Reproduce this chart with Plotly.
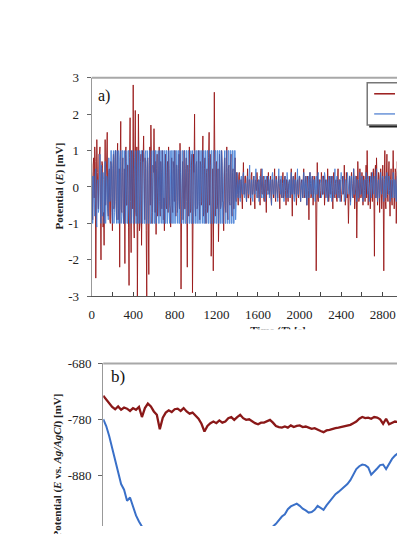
import numpy as np
import plotly.graph_objects as go

W, H = 397, 534

# ---------------- Panel a) : potential noise ----------------
# samples at t = 0, 10, 20, ... s
STEP_A = 10
red_a = [
    0.4, -0.9, 0.8, 1.1, -2.5, 1.3, -0.6, 0.9, 1.1, -2.0,
    0.7, -1.1, -1.6, 1.3, 0.2, 1.5, -0.8, 0.5, -1.0, 0.6,
    -1.2, 0.9, -0.5, 1.0, -0.9, 1.2, -0.6, -2.2, 1.8, -0.7,
    0.8, -1.0, -2.1, 1.1, -0.5, 0.6, -2.7, 1.9, -1.8, 0.9,
    2.8, -1.4, 2.1, -0.8, -3.0, 2.0, -1.2, 0.7, -1.6, 1.0,
    1.4, -0.9, 0.5, -3.0, 0.8, -2.4, 1.1, 1.7, -1.0, 0.6,
    1.6, -0.7, -1.3, 0.9, -0.5, 1.1, -0.8, 0.4, 1.0, -0.9,
    -1.2, 0.9, -0.6, 0.7, 1.1, -0.5, -1.1, 0.8, -0.7, 0.5,
    1.0, -0.8, 0.6, -0.4, 0.9, 1.2, -2.8, 0.5, -0.9, 1.0,
    -0.6, 0.8, -2.2, 0.4, 1.1, -0.7, 0.6, -2.9, 0.9, 2.0,
    -0.8, 0.7, -0.5, 1.0, -0.9, 0.6, -0.4, 1.4, -0.7, 0.8,
    -1.0, 0.5, -0.6, 1.5, 0.9, -1.9, 0.4, -2.3, 2.6, -0.8,
    0.7, -0.5, -1.5, 0.9, -0.6, 1.0, -0.4, -1.2, 0.8, -0.7,
    1.1, -0.9, 0.6, -0.5, 0.9, -0.8, 0.5, -0.6, 0.8, -0.4,
    0.3, -0.5, 0.4, -0.3, 0.2, -0.6, 0.67, -0.2, 0.3, -0.4,
    0.5, -0.3, 0.2, -0.5, 0.4, -0.2, 0.3, -0.6, 0.1, 0.4,
    -0.3, 0.2, -0.5, 0.5, -0.2, 0.3, -0.4, 0.2, -0.7, 0.3,
    0.4, -0.2, 0.3, -0.5, 0.2, -0.3, 0.5, -0.4, 0.1, -0.3,
    0.3, -0.6, 0.2, -0.3, 0.4, -0.2, 0.3, -0.5, 0.2, -0.4,
    0.2, -0.3, 0.5, -0.8, 0.3, -0.2, 0.4, -0.5, 0.2, -0.3,
    0.3, -0.4, 0.2, -0.3, 0.5, -0.2, 0.3, -0.5, 0.2, -0.9,
    0.4, -0.3, 0.2, -0.5, 0.3, -0.2, -2.3, 0.67, -0.4, 0.2,
    -0.3, 0.4, -0.2, 0.3, -0.5, 0.2, -0.3, 0.5, -0.4, 0.3,
    -0.2, 0.3, -0.6, 0.4, -0.3, 0.2, -0.4, 0.5, -0.3, 0.2,
    -0.4, 0.3, -0.2, 0.6, -0.5, 0.4, -0.3, -1.0, 0.3, -0.4,
    0.4, -0.3, 0.5, -0.6, 0.3, -1.4, 0.7, -0.4, 0.5, -0.3,
    0.4, -0.5, 0.3, -0.4, 0.6, 1.0, -0.5, 0.3, -0.6, 0.4,
    -0.4, 0.5, -1.9, 0.6, 0.8, -0.5, 0.4, -0.7, 0.5, -0.6,
    0.6, -2.3, 1.0, -0.6, 0.9, -0.4, 0.7, -0.8, 0.5, -0.5,
    1.0, -0.6, 0.5, -1.0, 0.7, -0.4, 0.6, -0.7, 0.4, -0.5, 0.3,
]
# samples at t = 5, 15, 25, ... s
red_a_mid = [
    -0.5, 0.6, -0.3, 0.7, -0.8, 0.4, -0.6, 0.9, -0.4, 0.5,
    0.6, -0.7, 0.3, -0.5, 0.8, -0.6, 0.4, -0.9, 0.7, -0.3,
    0.5, -0.6, 0.8, -0.4, 0.6, -0.9, 0.5, 0.7, -0.6, 0.4,
    -0.7, 0.5, 0.9, -0.5, 0.6, -1.1, 0.8, -0.4, 1.0, -0.6,
    -0.9, 0.8, -0.7, 1.1, -0.8, 0.6, -1.0, 0.9, -0.5, 0.7,
    -0.6, 0.8, -1.2, 0.7, -0.9, 0.6, -0.5, 0.8, -0.7, 0.4,
    -0.6, 0.7, 0.5, -0.8, 0.6, -0.4, 0.7, -0.6, 0.5, -0.3,
    0.6, -0.5, 0.4, -0.7, 0.5, -0.6, 0.4, -0.5, 0.7, -0.4,
    -0.5, 0.6, -0.7, 0.5, -0.6, 0.4, -0.8, 0.7, 0.5, -0.6,
    0.5, -0.4, 0.6, -0.8, 0.5, -0.6, 0.9, -0.7, 0.4, -0.5,
    0.6, -0.6, 0.5, -0.4, 0.7, -0.5, 0.6, -0.8, 0.5, -0.6,
    0.4, -0.7, 0.8, -0.5, 0.6, -0.9, 0.5, -0.4, 0.7, 0.5,
    -0.6, 0.5, -0.7, 0.4, -0.5, 0.6, -0.4, 0.7, -0.5, 0.4,
    -0.6, 0.5, -0.4, 0.6, -0.5, 0.4, -0.6, 0.5, -0.3, 0.4,
    -0.2, 0.3, -0.1, 0.2, -0.3, 0.1, -0.2, 0.3, -0.2, 0.1,
    -0.3, 0.2, -0.1, 0.3, -0.2, 0.1, -0.3, 0.2, -0.1, 0.2,
    0.1, -0.2, 0.3, -0.1, 0.2, -0.3, 0.1, -0.2, 0.2, -0.1,
    -0.2, 0.1, -0.3, 0.2, -0.1, 0.2, -0.2, 0.3, -0.1, 0.1,
    -0.1, 0.2, -0.2, 0.1, -0.3, 0.2, -0.1, 0.2, -0.2, 0.1,
    0.2, -0.1, -0.3, 0.2, -0.1, 0.3, -0.2, 0.1, -0.2, 0.2,
    -0.2, 0.1, -0.1, 0.2, -0.3, 0.1, -0.2, 0.3, -0.1, 0.2,
    0.1, -0.2, 0.3, -0.1, 0.2, -0.2, 0.1, -0.3, 0.2, -0.1,
    -0.1, 0.2, -0.2, 0.3, -0.1, 0.1, -0.3, 0.2, -0.2, 0.1,
    0.2, -0.1, 0.3, -0.2, 0.1, -0.3, 0.2, -0.1, 0.2, -0.2,
    -0.2, 0.3, -0.1, 0.2, -0.3, 0.1, -0.2, 0.3, -0.1, 0.2,
    0.1, -0.3, 0.2, -0.2, 0.3, -0.1, 0.2, -0.3, 0.1, -0.2,
    -0.2, 0.3, -0.1, 0.2, -0.3, 0.2, -0.1, 0.3, -0.2, 0.1,
    0.3, -0.2, 0.4, -0.3, 0.2, -0.1, 0.3, -0.3, 0.2, -0.2,
    -0.3, 0.2, -0.4, 0.3, -0.2, 0.3, -0.1, 0.2, -0.3, 0.2,
    0.3, -0.2, 0.4, -0.3, 0.2, -0.4, 0.3, -0.2, 0.3, -0.3,
]
blue_a = [
    -0.4, -1.0, 0.3, -0.8, 0.5, -1.1, 0.2, -0.6, 0.9, -1.0,
    -0.3, 0.4, -1.0, 0.7, -0.5, 0.2, -0.9, 0.5, -0.3, 1.0,
    -1.0, 1.0, -0.7, 1.0, -1.0, 0.3, 1.0, -1.0, 1.0, -0.8,
    1.0, -1.0, 0.5, 1.0, -1.0, 1.0, -0.6, 1.0, -1.0, 1.0,
    -1.0, 0.4, 1.0, -1.0, 1.0, -1.0, 1.0, -0.5, 1.0, -1.0,
    1.0, -1.0, 1.0, -1.0, 0.6, -1.0, 1.0, -1.0, 1.0, -1.0,
    1.0, -1.0, 1.0, -0.3, 1.0, -1.0, 1.0, -1.0, 1.0, -1.0,
    1.0, -1.0, 1.0, -1.0, 1.0, -1.0, 0.2, 1.0, -1.0, 1.0,
    -1.0, 1.0, -0.4, 1.0, -1.0, 1.0, -1.0, 1.0, -1.0, 1.0,
    -1.0, 1.0, -1.0, 1.0, -1.0, 0.5, -1.0, 1.0, -1.0, 1.0,
    -1.0, 1.0, -1.0, 1.0, -1.0, 1.0, -0.2, 1.0, -1.0, 1.0,
    -1.0, 1.0, -1.0, 1.0, -1.0, 1.0, -1.0, 1.0, -0.6, 1.0,
    -1.0, 1.0, -1.0, 1.0, -1.0, 1.0, -1.0, 0.3, 1.0, -1.0,
    1.0, -1.0, 1.0, -1.0, 1.0, -1.0, 1.0, -1.0, 1.0, -0.2,
    0.4, -0.3, 0.2, -0.4, 0.3, -0.2, 0.4, -0.3, 0.1, -0.4,
    0.3, -0.2, 0.6, -0.3, 0.2, -0.4, 0.3, -0.2, 0.5, -0.3,
    0.2, -0.4, 0.3, -0.2, 0.5, -0.3, 0.2, -0.4, 0.3, -0.2,
    0.3, -0.3, 0.2, -0.5, 0.4, -0.2, 0.3, -0.3, 0.2, -0.4,
    0.5, -0.2, 0.3, -0.3, 0.2, -0.4, 0.3, -0.2, 0.4, -0.3,
    0.2, -0.3, 0.4, -0.2, 0.3, -0.4, 0.2, -0.3, 0.5, -0.2,
    0.3, -0.4, 0.2, -0.3, 0.4, -0.2, 0.3, -0.5, 0.2, -0.3,
    0.4, -0.2, 0.3, -0.3, 0.2, -0.4, 0.3, -0.2, 0.4, -0.3,
    0.2, -0.3, 0.3, -0.2, 0.4, -0.3, 0.2, -0.4, 0.3, -0.2,
    0.3, -0.4, 0.2, -0.3, 0.5, -0.2, 0.3, -0.3, 0.2, -0.4,
    0.4, -0.2, 0.3, -0.4, 0.2, -0.3, 0.4, -0.2, 0.3, -0.5,
    0.3, -0.3, 0.5, -0.2, 0.3, -0.4, 0.2, -0.3, 0.4, -0.2,
    0.3, -0.4, 0.2, -0.3, 0.4, -0.2, 0.3, -0.4, 0.2, -0.3,
    0.4, -0.2, 0.3, -0.3, 0.5, -0.4, 0.2, -0.3, 0.4, -0.2,
    0.3, -0.4, 0.2, -0.3, 0.4, -0.2, 0.3, -0.4, 0.2, -0.3,
    0.4, -0.3, 0.2, -0.4, 0.3, -0.2, 0.4, -0.3, 0.2, -0.4, 0.3,
]
blue_a_mid = [
    0.3, -0.6, -0.2, 0.4, -0.9, 0.1, -0.7, 0.3, -0.5, 0.6,
    -0.8, 0.2, 0.5, -1.0, 0.3, -0.6, 0.8, -0.4, 1.0, -0.7,
    0.6, -1.0, 1.0, -0.4, 1.0, -1.0, 0.8, 1.0, -1.0, 1.0,
    -1.0, 1.0, -1.0, 0.7, -1.0, 1.0, -1.0, 1.0, -0.8, 1.0,
    -1.0, 1.0, -1.0, 0.5, -1.0, 1.0, -1.0, 1.0, -1.0, 1.0,
    -1.0, 0.9, -1.0, 1.0, -1.0, 1.0, -1.0, 0.4, -1.0, 1.0,
    -1.0, 1.0, -1.0, 1.0, -1.0, 1.0, -0.6, 1.0, -1.0, 1.0,
    -1.0, 1.0, -1.0, 1.0, -0.7, 1.0, -1.0, 1.0, -1.0, 1.0,
    -1.0, 1.0, -1.0, 1.0, -1.0, 0.3, -1.0, 1.0, -1.0, 1.0,
    -1.0, 1.0, -1.0, 1.0, -1.0, 1.0, -1.0, 0.6, -1.0, 1.0,
    -1.0, 1.0, -1.0, 1.0, -1.0, 1.0, -1.0, 1.0, -1.0, 1.0,
    -0.5, 1.0, -1.0, 1.0, -1.0, 1.0, -1.0, 1.0, -1.0, 1.0,
    -1.0, 1.0, -1.0, 1.0, -1.0, 0.7, -1.0, 1.0, -1.0, 1.0,
    -1.0, 1.0, -1.0, 1.0, -1.0, 1.0, -1.0, 1.0, -0.9, 0.3,
    -0.2, 0.1, -0.3, 0.2, -0.1, 0.3, -0.2, 0.1, -0.2, 0.2,
    -0.1, 0.3, -0.2, 0.1, -0.3, 0.2, -0.1, 0.2, -0.2, 0.1,
    0.2, -0.1, 0.2, -0.3, 0.1, -0.2, 0.3, -0.1, 0.2, -0.2,
    -0.2, 0.2, -0.1, 0.3, -0.2, 0.1, -0.3, 0.2, -0.1, 0.2,
    0.1, -0.2, 0.3, -0.1, 0.2, -0.2, 0.1, -0.3, 0.2, -0.1,
    -0.1, 0.2, -0.2, 0.1, -0.3, 0.2, -0.1, 0.2, -0.2, 0.3,
    0.2, -0.1, 0.2, -0.2, 0.1, -0.3, 0.2, -0.1, 0.3, -0.2,
    -0.2, 0.1, -0.3, 0.2, -0.1, 0.2, -0.2, 0.3, -0.1, 0.1,
    0.1, -0.2, 0.2, -0.1, 0.3, -0.2, 0.1, -0.2, 0.2, -0.3,
    -0.1, 0.3, -0.2, 0.1, -0.2, 0.2, -0.3, 0.1, -0.1, 0.2,
    0.2, -0.2, 0.1, -0.3, 0.2, -0.1, 0.2, -0.2, 0.3, -0.1,
    -0.2, 0.1, -0.2, 0.3, -0.1, 0.2, -0.3, 0.1, -0.2, 0.2,
    0.1, -0.3, 0.2, -0.1, 0.2, -0.2, 0.1, -0.2, 0.3, -0.1,
    -0.2, 0.2, -0.1, 0.3, -0.2, 0.1, -0.3, 0.2, -0.1, 0.2,
    0.2, -0.1, 0.3, -0.2, 0.1, -0.2, 0.2, -0.3, 0.1, -0.2,
    -0.1, 0.2, -0.3, 0.1, -0.2, 0.3, -0.1, 0.2, -0.2, 0.1,
]
x_ticks_a = [0, 400, 800, 1200, 1600, 2000, 2400, 2800]
y_ticks_a = [-3, -2, -1, 0, 1, 2, 3]
y_ticklabels_a = ["-3", "-2", "-1", "0", "1", "2", "3"]

# ---------------- Panel b) : potential vs time ----------------
red_b = [
    -738, -745, -752, -758, -762, -757, -763, -759, -761, -765,
    -760, -763, -758, -776, -760, -752, -757, -766, -772, -798,
    -777, -768, -764, -767, -762, -761, -765, -760, -766, -770,
    -768, -773, -779, -788, -802, -792, -787, -784, -787, -782,
    -786, -784, -778, -776, -781, -776, -772, -778, -781, -780,
    -784, -787, -789, -786, -786, -784, -781, -786, -792, -794,
    -795, -793, -795, -791, -794, -792, -791, -794, -793, -795,
    -797, -796, -799, -801, -803, -800, -799, -797, -796, -795,
    -794, -792, -791, -790, -787, -784, -779, -776, -778, -777,
    -779, -776, -777, -780, -788, -779, -789, -786, -784, -785,
]
blue_b = [
    -780, -792, -810, -832, -855, -878, -896, -906, -926, -920,
    -936, -952, -963, -972, -985, -995, -1005, -1015, -1022, -1030,
    -1035, -1040, -1044, -1048, -1052, -1055, -1057, -1060, -1060, -1062,
    -1060, -1058, -1056, -1054, -1050, -1048, -1045, -1042, -1040, -1036,
    -1032, -1028, -1024, -1020, -1016, -1012, -1008, -1004, -1000, -996,
    -993, -990, -987, -984, -981, -978, -975, -972, -967, -960,
    -954, -950, -941, -936, -934, -931, -935, -940, -943, -947,
    -946, -942, -935, -938, -942, -934, -928, -920, -914, -910,
    -905, -901, -896, -889, -880, -869, -864, -861, -862, -866,
    -879, -874, -868, -862, -861, -869, -860, -851, -845, -841,
]
y_ticks_b = [-680, -780, -880]
y_ticklabels_b = ["-680", "-780", "-880"]


def merge(main, mid, step):
    t = np.concatenate([np.arange(len(main)) * step, np.arange(len(mid)) * step + step / 2])
    v = np.concatenate([np.asarray(main, float), np.asarray(mid, float)])
    order = np.argsort(t, kind="stable")
    return t[order], v[order]


t_red_a, v_red_a = merge(red_a, red_a_mid, STEP_A)
t_blue_a, v_blue_a = merge(blue_a, blue_a_mid, STEP_A)
time_b = np.arange(len(red_b)) * 1.0

RED = "#9a1a1a"
BLUE = "#2f6fd1"
FONT = "Liberation Serif"


def px(x):
    return x / W


def py(y):
    return 1 - y / H


fig = go.Figure()
fig.add_trace(go.Scatter(x=t_red_a, y=v_red_a, mode="lines", name="Sample 1",
                         line=dict(color=RED, width=0.9), xaxis="x", yaxis="y",
                         showlegend=False))
fig.add_trace(go.Scatter(x=t_blue_a, y=v_blue_a, mode="lines", name="Sample 2",
                         line=dict(color=BLUE, width=0.9), opacity=0.85,
                         xaxis="x", yaxis="y", showlegend=False))
fig.add_trace(go.Scatter(x=time_b, y=red_b, mode="lines", name="Sample 1",
                         line=dict(color="#8a1818", width=2.3), xaxis="x2", yaxis="y2",
                         showlegend=False))
fig.add_trace(go.Scatter(x=time_b, y=blue_b, mode="lines", name="Sample 2",
                         line=dict(color="#3a70c8", width=2), xaxis="x2", yaxis="y2",
                         showlegend=False))

tickfont = dict(family=FONT, size=13, color="#222")

fig.update_layout(
    width=W, height=H,
    margin=dict(l=0, r=0, t=0, b=0),
    paper_bgcolor="white", plot_bgcolor="white",
    showlegend=False,
    xaxis=dict(domain=[px(89.3), 1], range=[0, 2937], anchor="y",
               tickvals=x_ticks_a, ticks="inside", ticklen=4, tickcolor="#444",
               minor=dict(dtick=200, ticks="inside", ticklen=4, tickcolor="#444"),
               showline=True, linecolor="#555", linewidth=1,
               showgrid=False, zeroline=False, tickfont=tickfont,
               ticklabelstandoff=6),
    yaxis=dict(domain=[py(297.7), py(72.7)], range=[-3, 3], anchor="x",
               tickvals=y_ticks_a, ticktext=y_ticklabels_a,
               ticks="outside", ticklen=4, tickcolor="#666",
               showline=True, linecolor="#999", linewidth=1,
               showgrid=False, zeroline=False, tickfont=tickfont,
               ticklabelstandoff=5),
    xaxis2=dict(domain=[px(101), 1], range=[0, (W - 101) / 3], anchor="y2",
                showline=False, showticklabels=False, ticks="",
                showgrid=False, zeroline=False),
    yaxis2=dict(domain=[0, py(366.7)], range=[-971, -680], anchor="x2",
                tickvals=y_ticks_b, ticktext=y_ticklabels_b,
                ticks="outside", ticklen=4, tickcolor="#666",
                showline=True, linecolor="#999", linewidth=1,
                showgrid=False, zeroline=False, tickfont=tickfont,
                ticklabelstandoff=4),
)

annotations = [
    dict(text="a)", x=px(94), y=py(91.5), xref="paper", yref="paper",
         xanchor="left", yanchor="middle", showarrow=False,
         font=dict(family=FONT, size=16, color="#111")),
    dict(text="b)", x=px(107), y=py(380.5), xref="paper", yref="paper",
         xanchor="left", yanchor="middle", showarrow=False,
         font=dict(family=FONT, size=17, color="#111")),
    dict(text="<b>Potential (<i>E</i>) [mV]</b>", x=px(57), y=py(184),
         xref="paper", yref="paper", xanchor="center", yanchor="middle",
         textangle=-90, showarrow=False,
         font=dict(family=FONT, size=11, color="#222")),
    dict(text="<b>Potential (<i>E</i> vs. <i>Ag/AgCl</i>) [mV]</b>", x=px(55), y=py(396),
         xref="paper", yref="paper", xanchor="center", yanchor="top",
         textangle=-90, showarrow=False,
         font=dict(family=FONT, size=11, color="#222")),
]
fig.update_layout(annotations=annotations)

shapes = [
    dict(type="line", xref="x domain", yref="y domain", x0=0, x1=1, y0=1, y1=1,
         line=dict(color="#a8a8a8", width=2), layer="above"),
    dict(type="line", xref="x2 domain", yref="y2 domain", x0=0, x1=1, y0=1, y1=1,
         line=dict(color="#a8a8a8", width=2), layer="above"),
    dict(type="rect", xref="paper", yref="paper", x0=px(369), x1=px(420),
         y0=py(124), y1=py(80), fillcolor="#222", line=dict(width=0), layer="above"),
    dict(type="rect", xref="paper", yref="paper", x0=px(367), x1=px(420),
         y0=py(121.5), y1=py(78), fillcolor="white",
         line=dict(color="#777", width=1.5), layer="above"),
    dict(type="line", xref="paper", yref="paper", x0=px(374), x1=px(395),
         y0=py(89.3), y1=py(89.3), line=dict(color=RED, width=1.5), layer="above"),
    dict(type="line", xref="paper", yref="paper", x0=px(374), x1=px(395),
         y0=py(110), y1=py(110), line=dict(color="#6a93d8", width=1.5), layer="above"),
    dict(type="rect", xref="paper", yref="paper", x0=px(236), x1=px(318),
         y0=py(340), y1=py(324), fillcolor="rgba(0,0,0,0)", line=dict(width=0),
         layer="above",
         label=dict(text="<b>Time (<i>T</i>) [s]</b>", textposition="middle center",
                    font=dict(family=FONT, size=11, color="#222"))),
    dict(type="rect", xref="paper", yref="paper", x0=px(200), x1=px(397),
         y0=py(358), y1=py(331.5), fillcolor="white", line=dict(width=0),
         layer="above"),
]
fig.update_layout(shapes=shapes)

fig.write_html("out.html")
